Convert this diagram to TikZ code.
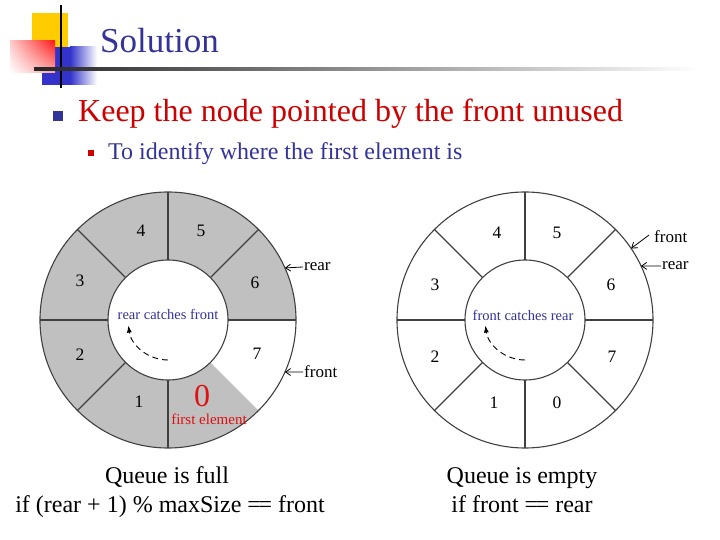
\documentclass[tikz,border=0pt]{standalone}
\usepackage{fontspec}
\setmainfont{Liberation Serif}
\usetikzlibrary{arrows.meta, calc, shadings}

\definecolor{titleblue}{RGB}{51,51,153}
\definecolor{keepred}{RGB}{204,0,0}
\definecolor{zerored}{RGB}{221,17,17}
\definecolor{ringgray}{RGB}{192,192,192}
\definecolor{ringline}{RGB}{64,64,64}
\definecolor{decoyellow}{RGB}{255,204,0}
\definecolor{decoblue}{RGB}{51,51,204}

\begin{document}
\begin{tikzpicture}[
    x=1pt, y=1pt,
    num/.style={font=\fontsize{17.5}{20}\selectfont, inner sep=0pt},
    ptr/.style={font=\fontsize{17}{20}\selectfont, anchor=west, inner sep=1pt},
    ptrarrow/.style={-{Straight Barb[length=5pt, width=7pt]}, line width=0.8pt},
    catch/.style={font=\fontsize{14.5}{17}\selectfont, text=titleblue, inner sep=0pt},
    cond/.style={font=\fontsize{24}{28}\selectfont, anchor=base, inner sep=0pt},
    ring/.style={draw=ringline, line width=1.1pt},
    turn/.style={dashed, dash pattern=on 6pt off 4pt, line width=0.9pt, -{Latex[length=7pt, width=5pt]}},
    bulletsq/.style={fill=titleblue, inner sep=0pt, minimum size=10pt}
]
\useasboundingbox (0,0) rectangle (720,540);

% title decoration
\fill[decoyellow] (32,493) rectangle (68,527);
\fill[decoblue] (42,455) rectangle (70,493);
\shade[left color=decoblue, right color=white] (70,455) rectangle (97,493);
\shade[upper right=red!90, upper left=red!20, lower right=red!35, lower left=white] (10,467) rectangle (55,499);
\draw[line width=2pt] (61,452) -- (61,535);
\shade[left color=black!85, right color=white] (34,469) rectangle (700,472.5);

\node[anchor=base west, font=\fontsize{35}{40}\selectfont, text=titleblue, inner sep=0pt] (title) at (100,487) {Solution};

\node[bulletsq] (b1) at (58,424) {};
\node[anchor=base west, font=\fontsize{32}{36}\selectfont, text=keepred, inner sep=0pt] (keep) at (78,418) {Keep the node pointed by the front unused};
\node[bulletsq, fill=keepred, minimum size=6pt] (b2) at (91,387) {};
\node[anchor=base west, font=\fontsize{24}{28}\selectfont, text=titleblue, inner sep=0pt] (ident) at (108,380) {To identify where the first element is};

% full queue
\coordinate (lc) at (168,220);
\fill[ringgray] (lc) circle (128);
\fill[white] (lc) -- ($(lc)+(0:128)$) arc[start angle=0, end angle=-45, radius=128] -- cycle;
\draw[ring] ($(lc)+(180:128)$) -- ($(lc)+(0:128)$);
\draw[ring] ($(lc)+(-90:128)$) -- ($(lc)+(90:128)$);
\draw[ring] ($(lc)+(225:128)$) -- ($(lc)+(45:128)$);
\draw[ring] (lc) -- ($(lc)+(135:128)$);
\draw[ring, fill=white] (lc) circle (60);
\draw[ring] (lc) circle (128);

\node[num] (l4) at ($(lc)+(-27,89)$) {4};
\node[num] (l5) at ($(lc)+(33,89)$) {5};
\node[num] (l6) at ($(lc)+(87,37)$) {6};
\node[num] (l7) at ($(lc)+(89,-34)$) {7};
\node[num] (l1) at ($(lc)+(-29,-82)$) {1};
\node[num] (l2) at ($(lc)+(-88,-35)$) {2};
\node[num] (l3) at ($(lc)+(-88,39)$) {3};
\node[font=\fontsize{32}{36}\selectfont, text=zerored, inner sep=0pt] (l0) at ($(lc)+(34,-76)$) {0};
\node[font=\fontsize{15}{18}\selectfont, text=zerored, inner sep=0pt] (lfirst) at ($(lc)+(41,-99)$) {first element};

\node[catch] (lcatch) at ($(lc)+(0,6)$) {rear catches front};
\draw[turn] ($(lc)+(-90:40)$) arc[start angle=-90, end angle=-172, radius=40];

\coordinate (lrear) at ($(lc)+(24:128)$);
\coordinate (lfront) at ($(lc)+(-24:128)$);
\node[ptr] (lrearlbl) at (303,273) {rear};
\node[ptr] (lfrontlbl) at (303,168) {front};
\draw[ptrarrow] (lrearlbl.west) -- (lrear);
\draw[ptrarrow] (lfrontlbl.west) -- (lfront);

\node[cond] (full) at (167,56) {Queue is full};
\node[cond] (fullif) at (170,27) {if (rear + 1) \% maxSize =\kern-0.1em= front};

% empty queue
\coordinate (rc) at (525,220);
\draw[ring] ($(rc)+(180:128)$) -- ($(rc)+(0:128)$);
\draw[ring] ($(rc)+(-90:128)$) -- ($(rc)+(90:128)$);
\draw[ring] ($(rc)+(225:128)$) -- ($(rc)+(45:128)$);
\draw[ring] ($(rc)+(135:128)$) -- ($(rc)+(-45:128)$);
\draw[ring, fill=white] (rc) circle (60);
\draw[ring] (rc) circle (128);

\node[num] (r4) at ($(rc)+(-28,87)$) {4};
\node[num] (r5) at ($(rc)+(32,87)$) {5};
\node[num] (r6) at ($(rc)+(86,35)$) {6};
\node[num] (r7) at ($(rc)+(87,-37)$) {7};
\node[num] (r0) at ($(rc)+(32,-83)$) {0};
\node[num] (r1) at ($(rc)+(-31,-83)$) {1};
\node[num] (r2) at ($(rc)+(-90,-37)$) {2};
\node[num] (r3) at ($(rc)+(-90,35)$) {3};

\node[catch] (rcatch) at ($(rc)+(-2,5)$) {front catches rear};
\draw[turn] ($(rc)+(-90:40)$) arc[start angle=-90, end angle=-172, radius=40];

\coordinate (rfront) at ($(rc)+(34:128)$);
\coordinate (rrear) at ($(rc)+(25:128)$);
\node[ptr] (rfrontlbl) at (653,303) {front};
\node[ptr] (rrearlbl) at (661,274) {rear};
\draw[ptrarrow] ($(rfrontlbl.west)+(-4,2)$) -- (rfront);
\draw[ptrarrow] (rrearlbl.west) -- (rrear);

\node[cond] (empty) at (522,56) {Queue is empty};
\node[cond] (emptyif) at (522,27) {if front =\kern-0.1em= rear};

\end{tikzpicture}
\end{document}
